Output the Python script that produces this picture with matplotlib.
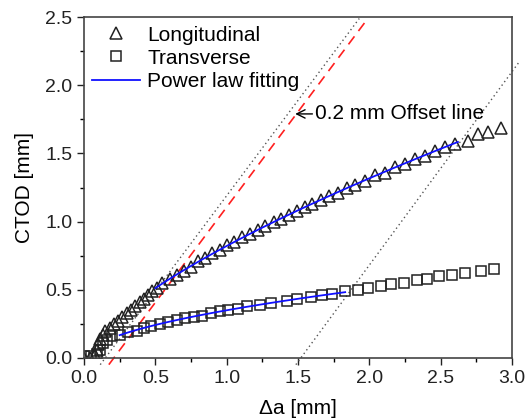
import matplotlib
matplotlib.use('Agg')
import matplotlib.pyplot as plt
from matplotlib.ticker import MultipleLocator
import numpy as np

plt.rcParams['font.family'] = ['Liberation Sans', 'DejaVu Sans']

# Longitudinal specimen: crack extension [mm] vs CTOD [mm]
long_da = [0.0, 0.04, 0.08, 0.09, 0.10, 0.11, 0.13, 0.15, 0.18, 0.21, 0.24, 0.27, 0.30,
           0.33, 0.36, 0.39, 0.42, 0.45, 0.48, 0.51, 0.55, 0.60, 0.65, 0.70, 0.75, 0.80,
           0.85, 0.90, 0.95, 1.00, 1.05, 1.11, 1.16, 1.22, 1.27, 1.33, 1.38, 1.44, 1.49,
           1.55, 1.60, 1.66, 1.72, 1.78, 1.84, 1.90, 1.97, 2.04, 2.11, 2.18, 2.25, 2.32,
           2.39, 2.46, 2.53, 2.60, 2.69, 2.76, 2.83, 2.92]
long_ctod = [0.0, 0.0, 0.02, 0.06, 0.10, 0.14, 0.17, 0.20, 0.22, 0.25, 0.27, 0.30, 0.33,
             0.35, 0.38, 0.41, 0.43, 0.46, 0.49, 0.51, 0.55, 0.58, 0.61, 0.64, 0.67, 0.71,
             0.73, 0.77, 0.79, 0.83, 0.85, 0.89, 0.91, 0.94, 0.97, 1.00, 1.02, 1.05, 1.08,
             1.11, 1.13, 1.16, 1.19, 1.21, 1.25, 1.27, 1.30, 1.34, 1.36, 1.40, 1.42, 1.46,
             1.48, 1.52, 1.55, 1.57, 1.59, 1.64, 1.66, 1.69]

# Transverse specimen
trans_da = [0.0, 0.05, 0.09, 0.11, 0.13, 0.16, 0.20, 0.25, 0.31, 0.37, 0.42, 0.47, 0.53,
            0.59, 0.65, 0.71, 0.77, 0.83, 0.89, 0.95, 1.01, 1.08, 1.14, 1.23, 1.31, 1.42,
            1.49, 1.59, 1.67, 1.74, 1.83, 1.92, 1.99, 2.08, 2.15, 2.24, 2.33, 2.40, 2.49,
            2.58, 2.67, 2.78, 2.87]
trans_ctod = [0.01, 0.01, 0.03, 0.06, 0.11, 0.13, 0.16, 0.17, 0.19, 0.20, 0.22, 0.23, 0.25,
              0.26, 0.28, 0.29, 0.30, 0.31, 0.33, 0.34, 0.35, 0.36, 0.38, 0.39, 0.40, 0.42,
              0.43, 0.45, 0.46, 0.47, 0.49, 0.50, 0.51, 0.53, 0.54, 0.55, 0.57, 0.58, 0.60,
              0.61, 0.62, 0.64, 0.65]

# fitting ranges [mm]
long_fit_range = (0.5, 2.62)
trans_fit_range = (0.25, 1.83)

# construction lines: (x-intercept, slope, y start, y end)
blunt_line = (0.15, 1.40, -0.05, 2.49)
offset_line = (0.21, 1.40, -0.05, 2.46)
right_line = (1.52, 1.42, -0.05, 2.17)


def power_fit(xs, ys, rng):
    xs = np.asarray(xs)
    ys = np.asarray(ys)
    m = (xs >= rng[0] - 1e-9) & (xs <= rng[1] + 0.05)
    b, loga = np.polyfit(np.log(xs[m]), np.log(ys[m]), 1)
    xf = np.linspace(rng[0], rng[1], 100)
    return xf, np.exp(loga) * xf ** b


def line_pts(spec):
    x0, k, y1, y2 = spec
    ys = np.array([y1, y2])
    return x0 + ys / k, ys


fig = plt.figure(figsize=(5.28, 4.19), dpi=100)
ax = fig.add_axes([0.159, 0.146, 0.811, 0.813])

xl, yl = line_pts(blunt_line)
ax.plot(xl, yl, color='#555555', ls=(0, (1, 2.2)), lw=1.0, clip_on=False)
xl, yl = line_pts(offset_line)
ax.plot(xl, yl, color='#ff2020', ls=(0, (6, 4)), lw=1.2, clip_on=False)
xl, yl = line_pts(right_line)
ax.plot(xl, yl, color='#555555', ls=(0, (1, 2.2)), lw=1.0, clip_on=False)

ax.plot(long_da, long_ctod, ls='none', marker='^', ms=8, mfc='none', mec='#222222',
        mew=1.1, label='Longitudinal')
ax.plot(trans_da, trans_ctod, ls='none', marker='s', ms=6.5, mfc='none', mec='#222222',
        mew=1.1, label='Transverse')

xf, yf = power_fit(long_da, long_ctod, long_fit_range)
ax.plot(xf, yf, color='#1010ff', lw=1.3, label='Power law fitting')
xf, yf = power_fit(trans_da, trans_ctod, trans_fit_range)
ax.plot(xf, yf, color='#1010ff', lw=1.3)

ax.annotate('0.2 mm Offset line', xy=(1.48, 1.79), xytext=(1.62, 1.79),
            va='center', ha='left', fontsize=15,
            arrowprops=dict(arrowstyle='->', color='black', lw=1.0,
                            shrinkA=0, shrinkB=0))

ax.set_xlim(0, 3.0)
ax.set_ylim(0, 2.5)
ax.xaxis.set_major_locator(MultipleLocator(0.5))
ax.xaxis.set_minor_locator(MultipleLocator(0.25))
ax.yaxis.set_major_locator(MultipleLocator(0.5))
ax.yaxis.set_minor_locator(MultipleLocator(0.25))
ax.xaxis.set_major_formatter(plt.FormatStrFormatter('%.1f'))
ax.yaxis.set_major_formatter(plt.FormatStrFormatter('%.1f'))
ax.tick_params(which='major', direction='out', length=5, width=1.0, labelsize=14,
               colors='#222222', top=False, right=False)
ax.tick_params(which='minor', direction='out', length=3, width=1.0, top=False, right=False)
for s in ax.spines.values():
    s.set_color('#444444')
    s.set_linewidth(1.2)

ax.set_xlabel('Δa [mm]', fontsize=15, labelpad=9)
ax.set_ylabel('CTOD [mm]', fontsize=15, labelpad=8)

ax.legend(loc='upper left', bbox_to_anchor=(0.0, 1.0), frameon=False, fontsize=15,
          handlelength=2.3, handletextpad=0.35, labelspacing=0.2, borderaxespad=0.1,
          borderpad=0.3)

fig.savefig('out.png', dpi=100)
